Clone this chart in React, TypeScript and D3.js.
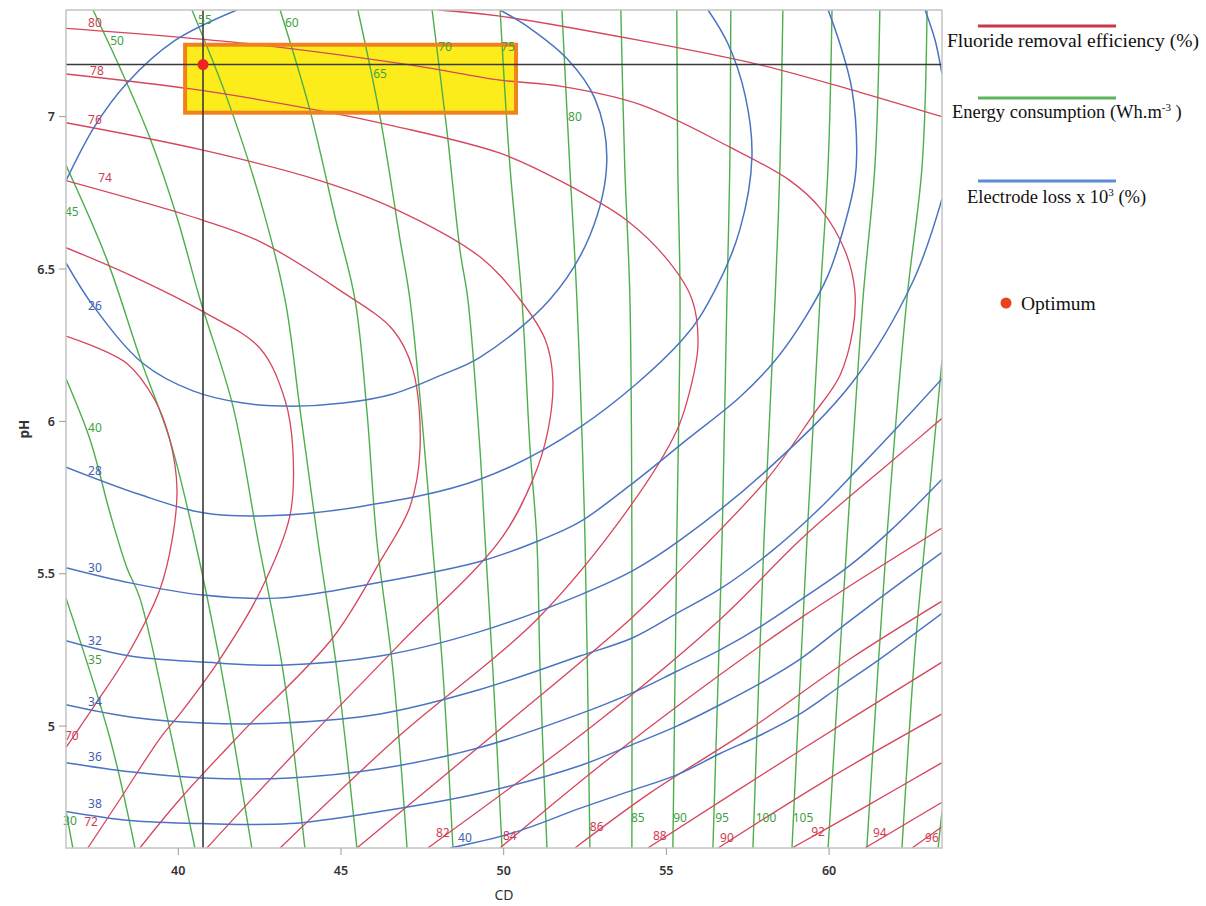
import React from 'react';
import * as d3 from 'd3';

type Pt = [number, number];

const W = 1206;
const H = 906;
const CD_DOMAIN: [number, number] = [36.55, 63.47];
const PH_DOMAIN: [number, number] = [4.6, 7.35];
const CD_TICKS = [40, 45, 50, 55, 60];
const PH_TICKS = [5, 5.5, 6, 6.5, 7];

// Energy consumption (Wh.m-3) contour lines: [level, (CD, pH) points]
const energyContours: [number, Pt[]][] = [
  [30, [[36.55, 4.72], [36.76, 4.6]]],
  [35, [[36.55, 5.42], [37.9, 4.96], [38.67, 4.6]]],
  [40, [[36.55, 6.14], [37.29, 5.94], [37.9, 5.7], [38.42, 5.52], [38.82, 5.42], [39.74, 4.99], [40.51, 4.6]]],
  [45, [[36.55, 6.84], [37.81, 6.53], [38.82, 6.21], [39.74, 5.94], [40.51, 5.61], [41.28, 5.21], [42.26, 4.6]]],
  [50, [[37.38, 7.35], [38.21, 7.16], [39.13, 6.93], [39.96, 6.67], [40.67, 6.4], [41.68, 6.05], [42.45, 5.61], [43.22, 5.18], [43.89, 4.6]]],
  [55, [[40.42, 7.35], [41.5, 7.06], [42.51, 6.73], [43.28, 6.4], [43.74, 6.04], [44.29, 5.61], [44.88, 5.18], [45.49, 4.6]]],
  [60, [[43.13, 7.35], [44.05, 7.02], [44.82, 6.67], [45.43, 6.4], [45.8, 6.03], [46.1, 5.61], [46.6, 5.18], [47.03, 4.6]]],
  [65, [[45.52, 7.35], [46.2, 7.0], [46.81, 6.6], [47.12, 6.4], [47.52, 5.97], [47.8, 5.61], [48.13, 5.18], [48.44, 4.6]]],
  [70, [[47.8, 7.35], [48.26, 6.95], [48.66, 6.56], [48.9, 6.4], [49.27, 5.91], [49.43, 5.61], [49.67, 5.18], [49.95, 4.6]]],
  [75, [[49.89, 7.35], [50.19, 6.84], [50.56, 6.4], [50.81, 5.91], [51.02, 5.61], [51.12, 5.18], [51.33, 4.6]]],
  [80, [[51.79, 7.35], [52.03, 6.84], [52.25, 6.4], [52.5, 5.61], [52.65, 4.6]]],
  [85, [[53.6, 7.35], [53.72, 6.84], [53.88, 6.4], [53.94, 5.61], [53.94, 4.6]]],
  [90, [[55.32, 7.35], [55.35, 6.84], [55.42, 6.4], [55.32, 5.61], [55.2, 4.6]]],
  [95, [[56.98, 7.35], [56.95, 6.84], [56.86, 6.4], [56.71, 5.61], [56.43, 4.6]]],
  [100, [[58.58, 7.35], [58.49, 6.84], [58.34, 6.4], [58.0, 5.61], [57.66, 4.6]]],
  [105, [[60.09, 7.35], [59.97, 6.84], [59.72, 6.4], [59.32, 5.61], [58.86, 4.6]]],
  [110, [[61.56, 7.35], [61.41, 6.84], [61.04, 6.4], [60.55, 5.61], [59.97, 4.6]]],
  [115, [[63.01, 7.35], [62.86, 6.84], [62.39, 6.4], [61.77, 5.61], [61.16, 4.6]]],
  [120, [[63.47, 6.2], [62.95, 5.61], [62.64, 5.25], [62.24, 4.6]]],
  [125, [[63.47, 4.72], [63.35, 4.6]]],
];

// Electrode loss x 10^3 (%) contour lines
const electrodeContours: [number, Pt[]][] = [
  [24, [[36.55, 6.79], [37.44, 6.97], [38.42, 7.11], [39.9, 7.25], [41.8, 7.35]]],
  [26, [[36.55, 6.52], [37.38, 6.38], [38.92, 6.19], [40.45, 6.1], [41.99, 6.06], [43.52, 6.05], [45.07, 6.06], [46.6, 6.09], [48.04, 6.15], [49.27, 6.21], [51.42, 6.4], [52.65, 6.61], [53.17, 6.86], [52.8, 7.06], [51.95, 7.19], [50.81, 7.29], [49.89, 7.35]]],
  [28, [[36.55, 5.85], [38.82, 5.76], [40.76, 5.7], [42.73, 5.69], [45.58, 5.72], [49.27, 5.81], [52.34, 5.98], [55.51, 6.27], [56.49, 6.43], [57.26, 6.63], [57.63, 6.87], [57.42, 7.07], [56.89, 7.24], [56.28, 7.35]]],
  [30, [[36.55, 5.52], [38.52, 5.47], [40.76, 5.43], [43.03, 5.42], [45.58, 5.46], [49.27, 5.54], [51.12, 5.61], [52.34, 5.67], [53.88, 5.79], [55.63, 5.94], [57.26, 6.08], [58.34, 6.2], [59.26, 6.34], [59.97, 6.48], [60.49, 6.65], [60.79, 6.79], [60.85, 6.89], [60.7, 7.09], [60.33, 7.24], [59.97, 7.35]]],
  [32, [[36.55, 5.28], [38.52, 5.23], [40.76, 5.21], [43.13, 5.2], [46.2, 5.23], [49.27, 5.31], [52.34, 5.43], [53.97, 5.51], [55.42, 5.61], [58.19, 5.85], [60.73, 6.13], [62.58, 6.46], [63.47, 6.73]]],
  [32, [[62.95, 7.35], [63.26, 7.25], [63.47, 7.14]]],
  [34, [[36.55, 5.07], [38.52, 5.03], [40.76, 5.01], [43.13, 5.01], [46.2, 5.04], [49.27, 5.12], [52.34, 5.23], [53.97, 5.29], [55.32, 5.37], [56.65, 5.45], [58.19, 5.57], [59.57, 5.7], [60.85, 5.84], [62.18, 5.99], [63.47, 6.14]]],
  [36, [[36.55, 4.88], [38.52, 4.85], [40.73, 4.83], [43.43, 4.83], [46.2, 4.86], [49.27, 4.93], [52.34, 5.04], [53.97, 5.11], [55.32, 5.18], [56.65, 5.25], [57.94, 5.33], [59.2, 5.42], [60.55, 5.52], [61.87, 5.64], [63.47, 5.81]]],
  [38, [[36.55, 4.72], [38.52, 4.69], [40.73, 4.68], [43.43, 4.68], [46.2, 4.72], [49.27, 4.78], [52.34, 4.87], [53.97, 4.94], [55.32, 5.0], [56.65, 5.07], [57.88, 5.14], [59.11, 5.22], [60.33, 5.32], [61.56, 5.42], [63.47, 5.57]]],
  [40, [[48.35, 4.6], [50.29, 4.65], [52.34, 4.73], [53.97, 4.79], [55.32, 4.84], [56.65, 4.91], [57.88, 4.97], [59.11, 5.04], [60.33, 5.13], [61.56, 5.22], [63.47, 5.37]]],
];

// Fluoride removal efficiency (%) contour lines
const fluorideContours: [number, Pt[]][] = [
  [70, [[36.55, 6.28], [38.42, 6.19], [39.28, 6.07], [39.74, 5.94], [39.96, 5.78], [39.81, 5.61], [39.44, 5.45], [38.42, 5.23], [37.44, 5.07], [36.55, 4.93]]],
  [72, [[36.55, 6.57], [38.52, 6.48], [40.76, 6.36], [42.51, 6.24], [43.28, 6.07], [43.52, 5.91], [43.43, 5.69], [42.51, 5.44], [41.28, 5.22], [40.05, 5.04], [39.44, 4.96], [38.21, 4.76], [37.22, 4.6]]],
  [74, [[36.55, 6.79], [40.76, 6.66], [42.51, 6.59], [44.97, 6.43], [46.6, 6.3], [47.21, 6.17], [47.43, 5.91], [47.12, 5.72], [46.2, 5.54], [44.75, 5.29], [42.05, 4.99], [40.05, 4.76], [38.82, 4.6]]],
  [76, [[36.55, 6.98], [40.76, 6.89], [44.35, 6.79], [46.6, 6.7], [49.27, 6.54], [50.5, 6.4], [51.27, 6.27], [51.51, 6.14], [51.36, 5.97], [50.9, 5.81], [49.89, 5.61], [46.81, 5.27], [43.74, 4.93], [40.88, 4.6]]],
  [78, [[36.55, 7.14], [40.45, 7.09], [44.35, 7.02], [46.6, 6.97], [49.89, 6.88], [51.73, 6.79], [53.78, 6.66], [55.11, 6.52], [55.79, 6.4], [55.97, 6.25], [55.72, 6.1], [55.32, 5.97], [53.88, 5.72], [51.02, 5.35], [46.81, 4.97], [43.13, 4.6]]],
  [80, [[36.55, 7.29], [42.11, 7.24], [47.12, 7.17], [49.89, 7.12], [51.73, 7.1], [54.18, 7.04], [56.95, 6.9], [58.8, 6.79], [59.72, 6.7], [60.49, 6.56], [60.79, 6.43], [60.73, 6.3], [60.33, 6.15], [59.5, 6.02], [58.09, 5.81], [55.32, 5.5], [53.88, 5.35], [49.89, 4.99], [45.49, 4.6]]],
  [82, [[48.0, 7.35], [49.89, 7.33], [54.18, 7.25], [57.88, 7.17], [60.95, 7.08], [63.47, 7.0]]],
  [82, [[63.47, 6.01], [61.93, 5.87], [59.2, 5.62], [56.65, 5.35], [52.96, 5.02], [47.67, 4.6]]],
  [84, [[63.47, 5.65], [59.2, 5.36], [56.03, 5.12], [52.96, 4.87], [49.89, 4.6]]],
  [86, [[63.47, 5.41], [60.64, 5.22], [57.57, 4.99], [54.49, 4.78], [52.19, 4.6]]],
  [88, [[63.47, 5.21], [59.11, 4.92], [54.43, 4.6]]],
  [90, [[63.47, 5.04], [60.03, 4.83], [56.59, 4.6]]],
  [92, [[63.47, 4.88], [61.19, 4.74], [58.86, 4.6]]],
  [94, [[63.47, 4.75], [61.1, 4.6]]],
  [96, [[63.47, 4.67], [62.55, 4.6]]],
];

// Contour labels: [text, CD, pH]
const energyLabels: [string, number, number][] = [
  ['30', 36.67, 4.69], ['35', 37.44, 5.22], ['40', 37.44, 5.98], ['45', 36.73, 6.69],
  ['50', 38.12, 7.25], ['55', 40.82, 7.32], ['60', 43.49, 7.31], ['65', 46.2, 7.14],
  ['70', 48.2, 7.23], ['75', 50.13, 7.23], ['80', 52.19, 7.0], ['85', 54.12, 4.7],
  ['90', 55.42, 4.7], ['95', 56.71, 4.7], ['100', 58.06, 4.7], ['105', 59.2, 4.7],
];
const electrodeLabels: [string, number, number][] = [
  ['26', 37.44, 6.38], ['28', 37.44, 5.84], ['30', 37.44, 5.52], ['32', 37.44, 5.28],
  ['34', 37.44, 5.08], ['36', 37.44, 4.9], ['38', 37.44, 4.745], ['40', 48.81, 4.635],
];
const fluorideLabels: [string, number, number][] = [
  ['80', 37.44, 7.31], ['78', 37.5, 7.15], ['76', 37.44, 6.99], ['74', 37.75, 6.8],
  ['70', 36.73, 4.97], ['72', 37.32, 4.687], ['82', 48.13, 4.65], ['84', 50.19, 4.64],
  ['86', 52.86, 4.67], ['88', 54.8, 4.64], ['90', 56.86, 4.635], ['92', 59.66, 4.654],
  ['94', 61.56, 4.65], ['96', 63.16, 4.635],
];

const OPTIMUM: Pt = [40.76, 7.171];
const BOX_CD: [number, number] = [40.21, 50.38];
const BOX_PH: [number, number] = [7.013, 7.236];

const RED = '#d6465c';
const GREEN = '#4caf4c';
const BLUE = '#4a74c2';

export default function App() {
  const left = 66, right = 942, top = 10, bottom = 848;
  const x = d3.scaleLinear().domain(CD_DOMAIN).range([left, right]);
  const y = d3.scaleLinear().domain(PH_DOMAIN).range([bottom, top]);
  const line = d3
    .line<Pt>()
    .x((d) => x(d[0]))
    .y((d) => y(d[1]))
    .curve(d3.curveCatmullRom.alpha(0.5));

  const labelFont = "'Noto Sans', 'DejaVu Sans', sans-serif";
  const serif = "'Liberation Serif', 'Times New Roman', serif";

  const renderLabels = (arr: [string, number, number][], color: string, key: string) =>
    arr.map(([t, cx, cy], i) => (
      <text
        key={key + i}
        x={x(cx)}
        y={y(cy)}
        fill={color}
        fontSize={12}
        fontFamily={labelFont}
        textAnchor="middle"
        dominantBaseline="central"
      >
        {t}
      </text>
    ));

  return (
    <svg
      width={W}
      height={H}
      style={{ position: 'absolute', left: 0, top: 0, background: '#fff' }}
      xmlns="http://www.w3.org/2000/svg"
    >
      <defs>
        <clipPath id="plotClip">
          <rect x={left} y={top} width={right - left} height={bottom - top} />
        </clipPath>
      </defs>
      <rect x={0} y={0} width={W} height={H} fill="#fff" />

      {/* desirable region fill */}
      <rect
        x={x(BOX_CD[0])}
        y={y(BOX_PH[1])}
        width={x(BOX_CD[1]) - x(BOX_CD[0])}
        height={y(BOX_PH[0]) - y(BOX_PH[1])}
        fill="#fcec1c"
      />

      <g clipPath="url(#plotClip)" fill="none">
        {energyContours.map(([lv, pts], i) => (
          <path key={'g' + i} d={line(pts) || ''} stroke={GREEN} strokeWidth={1.4} />
        ))}
        {fluorideContours.map(([lv, pts], i) => (
          <path key={'r' + i} d={line(pts) || ''} stroke={RED} strokeWidth={1.3} />
        ))}
        {electrodeContours.map(([lv, pts], i) => (
          <path key={'b' + i} d={line(pts) || ''} stroke={BLUE} strokeWidth={1.5} />
        ))}
      </g>

      {/* desirable region border */}
      <rect
        x={x(BOX_CD[0])}
        y={y(BOX_PH[1])}
        width={x(BOX_CD[1]) - x(BOX_CD[0])}
        height={y(BOX_PH[0]) - y(BOX_PH[1])}
        fill="none"
        stroke="#f0821e"
        strokeWidth={4}
      />

      {/* crosshair */}
      <line x1={x(OPTIMUM[0])} x2={x(OPTIMUM[0])} y1={top} y2={bottom} stroke="#3a3a3a" strokeWidth={1.6} />
      <line x1={left} x2={right} y1={y(OPTIMUM[1])} y2={y(OPTIMUM[1])} stroke="#3a3a3a" strokeWidth={1.6} />

      {/* contour labels */}
      <g>
        {renderLabels(energyLabels, '#3f9f3f', 'gl')}
        {renderLabels(electrodeLabels, '#4060b0', 'bl')}
        {renderLabels(fluorideLabels, '#d03c52', 'rl')}
      </g>

      <circle cx={x(OPTIMUM[0])} cy={y(OPTIMUM[1])} r={5.5} fill="#ec2424" />

      {/* frame */}
      <rect x={left} y={top} width={right - left} height={bottom - top} fill="none" stroke="#c4c4c4" strokeWidth={1.5} />

      {/* x axis */}
      {CD_TICKS.map((t) => (
        <g key={'xt' + t}>
          <line x1={x(t)} x2={x(t)} y1={bottom} y2={bottom + 7} stroke="#9a9a9a" strokeWidth={1} />
          <text x={x(t)} y={bottom + 27} textAnchor="middle" fontSize={12.5} fontWeight={600} fill="#333" fontFamily={labelFont}>
            {t}
          </text>
        </g>
      ))}
      <text x={(left + right) / 2} y={900} textAnchor="middle" fontSize={14} fill="#333" fontFamily={labelFont}>
        CD
      </text>

      {/* y axis */}
      {PH_TICKS.map((t) => (
        <g key={'yt' + t}>
          <line x1={left - 7} x2={left} y1={y(t)} y2={y(t)} stroke="#9a9a9a" strokeWidth={1} />
          <text x={left - 11} y={y(t)} textAnchor="end" dominantBaseline="central" fontSize={12.5} fontWeight={600} fill="#333" fontFamily={labelFont}>
            {t}
          </text>
        </g>
      ))}
      <text
        transform={`translate(24, ${(top + bottom) / 2}) rotate(-90)`}
        textAnchor="middle"
        dominantBaseline="central"
        fontSize={13.5}
        fontWeight={700}
        fill="#333"
        fontFamily={labelFont}
      >
        pH
      </text>

      {/* legend */}
      <line x1={978} x2={1116} y1={26} y2={26} stroke="#c8374a" strokeWidth={3} />
      <text x={947} y={47} fontSize={18} fontFamily={serif} fill="#111" textLength={252} lengthAdjust="spacingAndGlyphs">
        Fluoride removal efficiency (%)
      </text>
      <line x1={978} x2={1116} y1={98} y2={98} stroke="#5cb45c" strokeWidth={3} />
      <text x={952} y={118} fontSize={18.5} fontFamily={serif} fill="#111">
        Energy consumption (Wh.m
        <tspan fontSize={11} dy={-7}>-3</tspan>
        <tspan dy={7}> )</tspan>
      </text>
      <line x1={978} x2={1116} y1={181} y2={181} stroke="#5b8ed6" strokeWidth={3} />
      <text x={967} y={203} fontSize={18.5} fontFamily={serif} fill="#111">
        Electrode loss x 10
        <tspan fontSize={11} dy={-7}>3</tspan>
        <tspan dy={7}> (%)</tspan>
      </text>
      <circle cx={1006} cy={303} r={5.5} fill="#e8431f" />
      <text x={1021} y={310} fontSize={19.5} fontFamily={serif} fill="#111">
        Optimum
      </text>
    </svg>
  );
}
